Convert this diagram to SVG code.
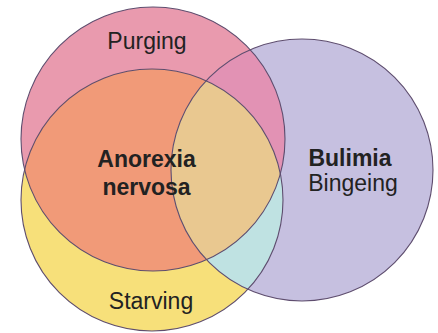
<svg xmlns="http://www.w3.org/2000/svg" width="438" height="333" viewBox="0 0 438 333">
<style>
.c{fill:none;stroke:#5e4d6e;stroke-width:1.1}
.t{font-family:"Liberation Sans",Arial,sans-serif;font-size:23px;fill:#222;text-anchor:middle}
.b{font-weight:bold}
</style>
<defs>
<clipPath id="clipP"><circle cx="153" cy="139" r="132"/></clipPath>
<clipPath id="clipY"><circle cx="152" cy="200" r="131"/></clipPath>
<clipPath id="clipB"><circle cx="302" cy="170" r="131"/></clipPath>
</defs>
<rect width="438" height="333" fill="#fff"/>
<g id="purging">
<circle cx="153" cy="139" r="132" fill="#e99aae"/>
</g>
<g id="starving">
<circle cx="152" cy="200" r="131" fill="#f7e07a"/>
</g>
<g id="anorexia">
<circle cx="152" cy="200" r="131" fill="#f19a78" clip-path="url(#clipP)"/>
</g>
<g id="bulimia">
<circle cx="302" cy="170" r="131" fill="#c6c0e0"/>
<g clip-path="url(#clipB)">
<circle cx="153" cy="139" r="132" fill="#e292b4"/>
<circle cx="152" cy="200" r="131" fill="#bfe2e2"/>
<g clip-path="url(#clipP)"><circle cx="152" cy="200" r="131" fill="#e9c890"/></g>
</g>
</g>
<g id="outlines">
<circle class="c" cx="153" cy="139" r="132"/>
<circle class="c" cx="152" cy="200" r="131"/>
<circle class="c" cx="302" cy="170" r="131"/>
</g>
<g id="labels">
<text class="t" x="147" y="49">Purging</text>
<text class="t b" x="146.5" y="167">Anorexia</text>
<text class="t b" x="146.5" y="195">nervosa</text>
<text class="t b" x="350" y="166">Bulimia</text>
<text class="t" x="353" y="191">Bingeing</text>
<text class="t" x="151" y="309">Starving</text>
</g>
</svg>
